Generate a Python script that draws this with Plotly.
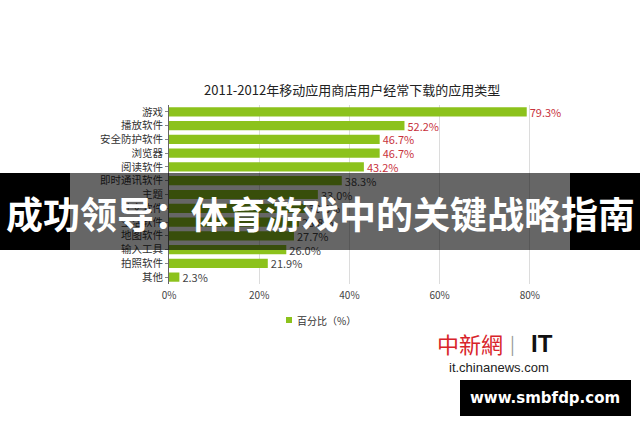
import plotly.graph_objects as go

categories = ["游戏", "播放软件", "安全防护软件", "浏览器", "阅读软件", "即时通讯软件", "主题",
              "社交软件", "生活软件", "地图软件", "输入工具", "拍照软件", "其他"]
values = [79.3, 52.2, 46.7, 46.7, 43.2, 38.3, 33.0, 30.3, 28.8, 27.7, 26.0, 21.9, 2.3]
label_colors = ["#c8323c"] * 5 + ["#444444"] * 8
x_ticks = [0, 20, 40, 60, 80]
x_tick_labels = ["0%", "20%", "40%", "60%", "80%"]
title_text = "2011-2012年移动应用商店用户经常下载的应用类型"
legend_name = "百分比（%）"
banner_text = "成功领导：体育游戏中的关键战略指南"

W, H = 640, 426
ML, MR, MT, MB = 169, 65, 105, 142
PW, PH = W - ML - MR, H - MT - MB
BAR_COLOR = "#8cc21c"


def px(x):
    return (x - ML) / PW


def py(y):
    return 1 - (y - MT) / PH


CJK = "Noto Sans CJK SC, sans-serif"

fig = go.Figure()
fig.add_trace(go.Bar(
    y=categories, x=values, orientation="h", name=legend_name,
    marker=dict(color=BAR_COLOR, line=dict(width=0)),
    text=[f"{v:.1f}%" for v in values], textposition="outside",
    textfont=dict(color=label_colors, size=11, family=CJK),
    constraintext="none", cliponaxis=False, showlegend=False,
))

fig.update_layout(
    width=W, height=H, margin=dict(l=ML, r=MR, t=MT, b=MB),
    paper_bgcolor="white", plot_bgcolor="white",
    bargap=0.33,
    font=dict(family=CJK, size=10, color="#333333"),
    xaxis=dict(range=[0, 90], tickvals=x_ticks, ticktext=x_tick_labels,
               showgrid=True, gridcolor="#dcdcdc", gridwidth=1, zeroline=False,
               tickfont=dict(size=10, color="#444444"), ticks="", ticklabelstandoff=4),
    yaxis=dict(autorange="reversed", showline=True, linecolor="#666666", linewidth=1,
               ticks="outside", ticklen=3, tickcolor="#888888",
               tickfont=dict(size=10.5, color="#333333"), showgrid=False),
    showlegend=False,
)

fig.add_annotation(text=title_text, xref="paper", yref="paper", x=px(352), y=py(90),
                   showarrow=False, font=dict(size=13, color="#222222", family=CJK),
                   xanchor="center", yanchor="middle")

# legend (manual)
fig.add_shape(type="rect", xref="paper", yref="paper", x0=px(286), x1=px(292), y0=py(317), y1=py(323),
              fillcolor=BAR_COLOR, line=dict(width=0))
fig.add_annotation(text=legend_name, xref="paper", yref="paper", x=px(295), y=py(320),
                   showarrow=False, font=dict(size=10, color="#333333", family=CJK),
                   xanchor="left", yanchor="middle")

# banner overlay
fig.add_shape(type="rect", xref="paper", yref="paper", x0=px(0), x1=px(70), y0=py(173), y1=py(250),
              fillcolor="black", line=dict(width=0), layer="above")
fig.add_shape(type="rect", xref="paper", yref="paper", x0=px(570), x1=px(640), y0=py(173), y1=py(250),
              fillcolor="black", line=dict(width=0), layer="above")
fig.add_shape(type="rect", xref="paper", yref="paper", x0=px(70), x1=px(570), y0=py(173), y1=py(250),
              fillcolor="rgba(0,0,0,0.6)", line=dict(width=0), layer="above")
fig.add_annotation(text="<b>" + banner_text + "</b>", xref="paper", yref="paper", x=px(320), y=py(213),
                   showarrow=False, font=dict(size=37, color="white", family=CJK),
                   xanchor="center", yanchor="middle")

# watermark
fig.add_annotation(text="中新網", xref="paper", yref="paper", x=px(470), y=py(343),
                   showarrow=False, font=dict(size=22, color="#d8232a", family="Noto Sans CJK TC"),
                   xanchor="center", yanchor="middle")
fig.add_annotation(text="|", xref="paper", yref="paper", x=px(512), y=py(343),
                   showarrow=False, font=dict(size=18, color="#999999"),
                   xanchor="center", yanchor="middle")
fig.add_annotation(text="<b>IT</b>", xref="paper", yref="paper", x=px(542), y=py(343),
                   showarrow=False, font=dict(size=24, color="#111111", family="Liberation Sans"),
                   xanchor="center", yanchor="middle")
fig.add_annotation(text="it.chinanews.com", xref="paper", yref="paper", x=px(499), y=py(367),
                   showarrow=False, font=dict(size=13, color="#222222", family="Liberation Sans"),
                   xanchor="center", yanchor="middle")
fig.add_shape(type="rect", xref="paper", yref="paper", x0=px(460), x1=px(631), y0=py(380), y1=py(416),
              fillcolor="black", line=dict(width=0), layer="above")
fig.add_annotation(text="<b>www.smbfdp.com</b>", xref="paper", yref="paper", x=px(545), y=py(398),
                   showarrow=False, font=dict(size=15, color="white", family="DejaVu Sans"),
                   xanchor="center", yanchor="middle")

fig.write_html("out.html")
